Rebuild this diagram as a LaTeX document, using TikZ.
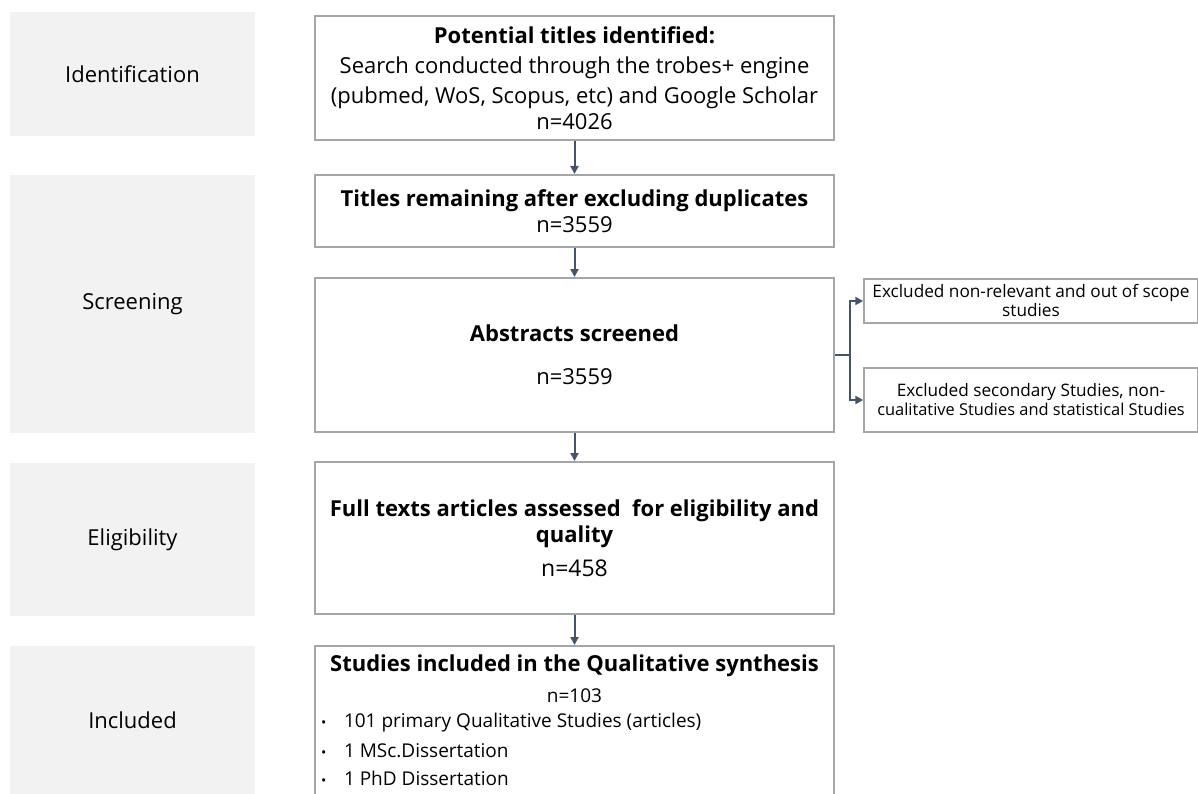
\documentclass[tikz,border=0pt]{standalone}
\usepackage{fontspec}
\setmainfont{Open Sans}
\usetikzlibrary{arrows.meta}
\definecolor{stagefill}{HTML}{F2F2F2}
\definecolor{boxline}{HTML}{A6A6A6}
\definecolor{flow}{HTML}{44546A}
\begin{document}
\begin{tikzpicture}[x=1pt,y=-1pt,
  stage/.style={fill=stagefill, draw=none, inner sep=0pt,
    font=\fontsize{22}{26}\selectfont},
  stepbox/.style={draw=boxline, line width=2pt, fill=white, align=center,
    inner sep=0pt, minimum width=519pt, font=\fontsize{22}{30}\selectfont},
  exclbox/.style={draw=boxline, line width=1.5pt, fill=white, align=center,
    inner sep=0pt, minimum width=334pt, font=\fontsize{17.2}{19}\selectfont},
  flowline/.style={draw=flow, line width=2pt},
  flowarrow/.style={flowline, -{Triangle[length=8pt,width=8pt]}},
  bulletline/.style={}]
\useasboundingbox (0,0) rectangle (1198,794);

% stage labels on the left
\node[stage, minimum width=245pt, minimum height=124pt] (sid)  at (132.5,74)  {Identification};
\node[stage, minimum width=245pt, minimum height=258pt] (sscr) at (132.5,304) {Screening};
\node[stage, minimum width=245pt, minimum height=153pt] (seli) at (132.5,539.5) {Eligibility};
\node[stage, minimum width=245pt, minimum height=160pt, anchor=north] (sinc) at (132.5,646) {};
\node[font=\fontsize{22}{26}\selectfont] (sinclabel) at (132.5,720) {Included};

% main flow boxes
\node[stepbox, minimum height=124pt] (ident) at (574.5,78)
  {\textbf{Potential titles identified:}\\
   Search conducted through the trobes+ engine\\
   (pubmed, WoS, Scopus, etc) and Google Scholar\\[-4pt]
   n=4026};
\node[stepbox, minimum height=72pt, font=\fontsize{22}{26}\selectfont] (titles) at (574.5,211)
  {\textbf{Titles remaining after excluding duplicates}\\
   n=3559};
\node[stepbox, minimum height=154pt] (abs) at (574.5,355)
  {\textbf{Abstracts screened}\\[13pt]
   n=3559};
\node[stepbox, minimum height=152pt, font=\fontsize{22}{26}\selectfont] (full) at (574.5,538)
  {\textbf{Full texts articles assessed~ for eligibility and}\\
   \textbf{quality}\\[8pt]
   {\fontsize{23}{26}\selectfont n=458}};
\node[stepbox, anchor=north, inner ysep=9pt] (incl) at (574.5,645)
  {\textbf{Studies included in the Qualitative synthesis}\\[1pt]
   {\fontsize{19}{20}\selectfont n=103}\\[-5pt]
   \makebox[515pt][l]{\hspace{4pt}\makebox[23pt][l]{\fontsize{14}{16}\selectfont •}{\fontsize{19}{20}\selectfont 101 primary Qualitative Studies (articles)}}\\[0pt]
   \makebox[515pt][l]{\hspace{4pt}\makebox[23pt][l]{\fontsize{14}{16}\selectfont •}{\fontsize{19}{20}\selectfont 1 MSc.Dissertation}}\\[-2pt]
   \makebox[515pt][l]{\hspace{4pt}\makebox[23pt][l]{\fontsize{14}{16}\selectfont •}{\fontsize{19}{20}\selectfont 1 PhD Dissertation}}\\[20pt]
   \mbox{}};

% exclusion boxes
\node[exclbox, minimum height=44pt] (exA) at (1031,301)
  {Excluded non-relevant and out of scope\\ studies};
\node[exclbox, minimum height=64pt] (exB) at (1031,400)
  {Excluded secondary Studies, non-\\
   {\fontsize{16.4}{19}\selectfont cualitative Studies and statistical Studies}};

% connectors
\draw[flowarrow] (ident) -- (titles);
\draw[flowarrow] (titles) -- (abs);
\draw[flowarrow] (abs) -- (full);
\draw[flowarrow] (full) -- (incl);
\draw[flowline] (abs.east) -- ++(15,0) coordinate (fork);
\draw[flowarrow] (fork) |- (exA.west);
\draw[flowarrow] (fork) |- (exB.west);
\end{tikzpicture}
\end{document}
